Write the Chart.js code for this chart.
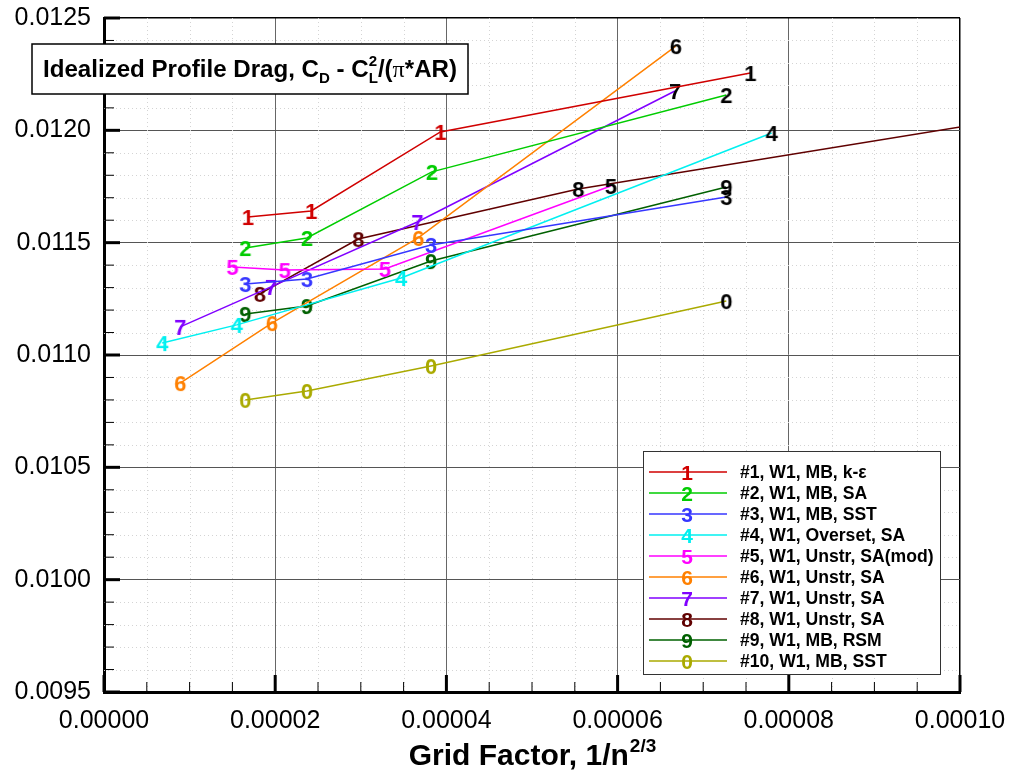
<!DOCTYPE html>
<html>
<head>
<meta charset="utf-8">
<script src="https://cdn.jsdelivr.net/npm/chart.js@4.4.0/dist/chart.umd.min.js"></script>
<style>
  html, body { margin: 0; padding: 0; background: #fff; }
  #wrap { width: 1010px; height: 774px; }
</style>
</head>
<body>
<div id="wrap"><canvas id="chart" width="1010" height="774"></canvas></div>
<script>
// values: grid factor (1/n^(2/3)) and profile drag per case
const gf1 = [1.68e-5, 2.42e-5, 3.93e-5, 7.55e-5];
const cd1 = [0.011614, 0.011641, 0.011993, 0.012255];
const gf2 = [1.65e-5, 2.37e-5, 3.83e-5, 7.27e-5];
const cd2 = [0.011476, 0.011521, 0.011815, 0.012157];
const gf3 = [1.65e-5, 2.37e-5, 3.82e-5, 7.27e-5];
const cd3 = [0.011316, 0.011338, 0.011490, 0.011703];
const gf4 = [0.68e-5, 1.55e-5, 3.47e-5, 7.80e-5];
const cd4 = [0.011053, 0.011134, 0.011343, 0.011988];
const gf5 = [1.50e-5, 2.11e-5, 3.28e-5, 5.92e-5];
const cd5 = [0.011392, 0.011378, 0.011383, 0.011752];
const gf6 = [0.89e-5, 1.96e-5, 3.67e-5, 6.68e-5];
const cd6 = [0.010875, 0.011142, 0.011521, 0.012375];
const gf7 = [0.89e-5, 1.95e-5, 3.66e-5, 6.67e-5];
const cd7 = [0.011125, 0.011303, 0.011592, 0.012175];
const gf8 = [1.82e-5, 2.97e-5, 5.54e-5, 10.5e-5];
const cd8 = [0.011272, 0.011516, 0.011739, 0.012046];
const gf9 = [1.65e-5, 2.37e-5, 3.82e-5, 7.27e-5];
const cd9 = [0.011183, 0.011218, 0.011418, 0.011748];
const gf0 = [1.65e-5, 2.37e-5, 3.82e-5, 7.27e-5];
const cd0 = [0.010800, 0.010840, 0.010951, 0.011240];

const caseKeys = ["1", "2", "3", "4", "5", "6", "7", "8", "9", "0"];
const caseNames = [
  "#1, W1, MB, k-\u03b5",
  "#2, W1, MB, SA",
  "#3, W1, MB, SST",
  "#4, W1, Overset, SA",
  "#5, W1, Unstr, SA(mod)",
  "#6, W1, Unstr, SA",
  "#7, W1, Unstr, SA",
  "#8, W1, Unstr, SA",
  "#9, W1, MB, RSM",
  "#10, W1, MB, SST"
];
// index of the coarse-grid point (labelled in black)
const coarseIdx = [3, 3, 3, 3, 3, 3, 3, 2, 3, 3];

const xTicks = [0, 0.00002, 0.00004, 0.00006, 0.00008, 0.0001];
const yTicks = [0.0095, 0.0100, 0.0105, 0.0110, 0.0115, 0.0120, 0.0125];

const FONT = '"Liberation Sans", Arial, Helvetica, sans-serif';
const colors = ["#d00000", "#00cc00", "#3636ff", "#00f0f0", "#ff00ff",
                "#ff8000", "#8000ff", "#600000", "#006000", "#aaaa00"];

const allGf = [gf1, gf2, gf3, gf4, gf5, gf6, gf7, gf8, gf9, gf0];
const allCd = [cd1, cd2, cd3, cd4, cd5, cd6, cd7, cd8, cd9, cd0];

function makeMarker(ch, color) {
  const c = document.createElement("canvas");
  c.width = 26; c.height = 28;
  const g = c.getContext("2d");
  g.font = "bold 22px " + FONT;
  g.fillStyle = color;
  g.textAlign = "center";
  g.textBaseline = "alphabetic";
  g.fillText(ch, 13, 14 + 8);
  return c;
}

const datasets = caseKeys.map((k, i) => {
  const col = makeMarker(k, colors[i]);
  const blk = makeMarker(k, "#000");
  return {
    label: caseNames[i],
    data: allGf[i].map((v, j) => ({ x: v, y: allCd[i][j] })),
    borderColor: colors[i],
    backgroundColor: colors[i],
    borderWidth: 1.5,
    tension: 0,
    pointRadius: ctx => ctx.dataIndex > coarseIdx[i] ? 0 : 8,
    pointStyle: ctx => ctx.dataIndex >= coarseIdx[i] ? blk : col
  };
});

function drawRuns(ctx, runs, x0, y0) {
  let x = x0;
  runs.forEach(r => {
    ctx.font = r.f;
    if (r.stack) {
      ctx.fillText(r.t, x, y0 + r.dy);
      ctx.font = r.stack.f;
      ctx.fillText(r.stack.t, x, y0 + r.stack.dy);
      const w1 = ctx.measureText(r.stack.t).width;
      ctx.font = r.f;
      x += Math.max(ctx.measureText(r.t).width, w1);
    } else {
      ctx.fillText(r.t, x, y0 + r.dy);
      x += ctx.measureText(r.t).width;
    }
  });
  return x - x0;
}

const decor = {
  id: "decor",
  beforeDatasetsDraw(chart) {
    const { ctx, chartArea: a, scales: { x, y } } = chart;
    ctx.save();
    ctx.strokeStyle = "#d4d4d4";
    ctx.lineWidth = 1;
    ctx.setLineDash([1, 3]);
    for (let i = 1; i < 20; i++) {
      if (i % 4 === 0) continue;
      const px = Math.round(x.getPixelForValue(i * 0.000005)) + 0.5;
      ctx.beginPath(); ctx.moveTo(px, a.top); ctx.lineTo(px, a.bottom); ctx.stroke();
    }
    for (let i = 1; i < 30; i++) {
      if (i % 5 === 0) continue;
      const py = Math.round(y.getPixelForValue(0.0095 + i * 0.0001)) + 0.5;
      ctx.beginPath(); ctx.moveTo(a.left, py); ctx.lineTo(a.right, py); ctx.stroke();
    }
    ctx.restore();
  },
  afterDatasetsDraw(chart) {
    const { ctx, chartArea: a, scales: { x, y } } = chart;
    ctx.save();
    ctx.strokeStyle = "#000";
    // inward ticks
    for (let i = 0; i <= 20; i++) {
      const major = i % 4 === 0;
      const px = x.getPixelForValue(i * 0.000005);
      ctx.lineWidth = major ? 3 : 1;
      ctx.beginPath(); ctx.moveTo(px, a.bottom); ctx.lineTo(px, a.bottom - (major ? 17 : 10)); ctx.stroke();
    }
    for (let i = 0; i <= 30; i++) {
      const major = i % 5 === 0;
      const py = y.getPixelForValue(0.0095 + i * 0.0001);
      ctx.lineWidth = major ? 3 : 1;
      ctx.beginPath(); ctx.moveTo(a.left, py); ctx.lineTo(a.left + (major ? 16 : 10), py); ctx.stroke();
    }

    // title box
    ctx.fillStyle = "#fff";
    ctx.fillRect(32, 44, 436, 50);
    ctx.lineWidth = 1.5;
    ctx.strokeRect(32, 44, 436, 50);
    const big = "bold 24px " + FONT, small = "bold 15px " + FONT;
    const runs = [
      { t: "Idealized Profile Drag, C", f: big, dy: 0 },
      { t: "D", f: small, dy: 6 },
      { t: " - C", f: big, dy: 0 },
      { t: "2", f: small, dy: -11, stack: { t: "L", f: small, dy: 6 } },
      { t: "/(", f: big, dy: 0 },
      { t: "\u03c0", f: '24px "Liberation Serif", serif', dy: 0 },
      { t: "*AR)", f: big, dy: 0 }
    ];
    ctx.fillStyle = "#000";
    ctx.textBaseline = "alphabetic";
    ctx.textAlign = "left";
    const off = document.createElement("canvas").getContext("2d");
    const w = drawRuns(off, runs, 0, 0);
    ctx.save();
    ctx.translate(43, 77);
    ctx.scale(414 / w, 1);
    drawRuns(ctx, runs, 0, 0);
    ctx.restore();

    // legend
    const lx = 643, ly = 451, lw = 297, lh = 223;
    ctx.fillStyle = "#fff";
    ctx.fillRect(lx, ly, lw, lh);
    ctx.lineWidth = 1;
    ctx.strokeStyle = "#333";
    ctx.strokeRect(lx + 0.5, ly + 0.5, lw, lh);
    caseKeys.forEach((k, i) => {
      const cy = 472 + i * 21;
      ctx.strokeStyle = colors[i];
      ctx.lineWidth = 1.5;
      ctx.beginPath(); ctx.moveTo(649, cy); ctx.lineTo(727, cy); ctx.stroke();
      ctx.fillStyle = colors[i];
      ctx.font = "bold 21px " + FONT;
      ctx.textAlign = "center";
      ctx.fillText(k, 687, cy + 8);
      ctx.fillStyle = "#000";
      ctx.font = "bold 17.6px " + FONT;
      ctx.textAlign = "left";
      ctx.fillText(caseNames[i], 740, cy + 6);
    });

    // x axis title with superscript
    const t1 = "Grid Factor, 1/n", t2 = "2/3";
    ctx.font = "bold 30px " + FONT;
    const w1 = ctx.measureText(t1).width;
    ctx.font = "bold 19px " + FONT;
    const w2 = ctx.measureText(t2).width;
    const cx = (a.left + a.right) / 2;
    let sx = cx - (w1 + w2) / 2;
    ctx.fillStyle = "#000";
    ctx.font = "bold 30px " + FONT;
    ctx.fillText(t1, sx, 765);
    ctx.font = "bold 19px " + FONT;
    ctx.fillText(t2, sx + w1 + 1, 752);
    ctx.restore();
  }
};

new Chart(document.getElementById("chart"), {
  type: "line",
  data: { datasets },
  options: {
    responsive: false,
    animation: false,
    layout: { padding: { left: 0, right: 50, top: 18, bottom: 0 } },
    plugins: { legend: { display: false }, tooltip: { enabled: false } },
    scales: {
      x: {
        type: "linear",
        min: 0, max: 0.0001,
        afterBuildTicks: s => { s.ticks = xTicks.map(v => ({ value: v })); },
        afterFit: s => { s.height = 82; s.paddingLeft = 0; s.paddingRight = 0; },
        ticks: {
          autoSkip: false, maxRotation: 0,
          padding: 14,
          color: "#000",
          font: { family: FONT, size: 25 },
          callback: v => v.toFixed(5)
        },
        grid: {
          drawTicks: false,
          color: c => (c.tick && (c.tick.value === 0 || c.tick.value === 0.0001)) ? "#000" : "#666",
          lineWidth: c => (c.tick && c.tick.value === 0.0001) ? 1.5 : 1
        },
        border: { color: "#000", width: 3 }
      },
      y: {
        type: "linear",
        min: 0.0095, max: 0.0125,
        afterBuildTicks: s => { s.ticks = yTicks.map(v => ({ value: v })); },
        afterFit: s => { s.width = 104; s.paddingTop = 0; s.paddingBottom = 0; },
        ticks: {
          autoSkip: false,
          padding: 13,
          color: "#000",
          font: { family: FONT, size: 25 },
          callback: v => v.toFixed(4)
        },
        grid: {
          drawTicks: false,
          color: c => (c.tick && c.tick.value === 0.0125) ? "#000" : "#555",
          lineWidth: c => (c.tick && c.tick.value === 0.0125) ? 1.5 : 1
        },
        border: { color: "#000", width: 3 }
      }
    }
  },
  plugins: [decor]
});
</script>
</body>
</html>
